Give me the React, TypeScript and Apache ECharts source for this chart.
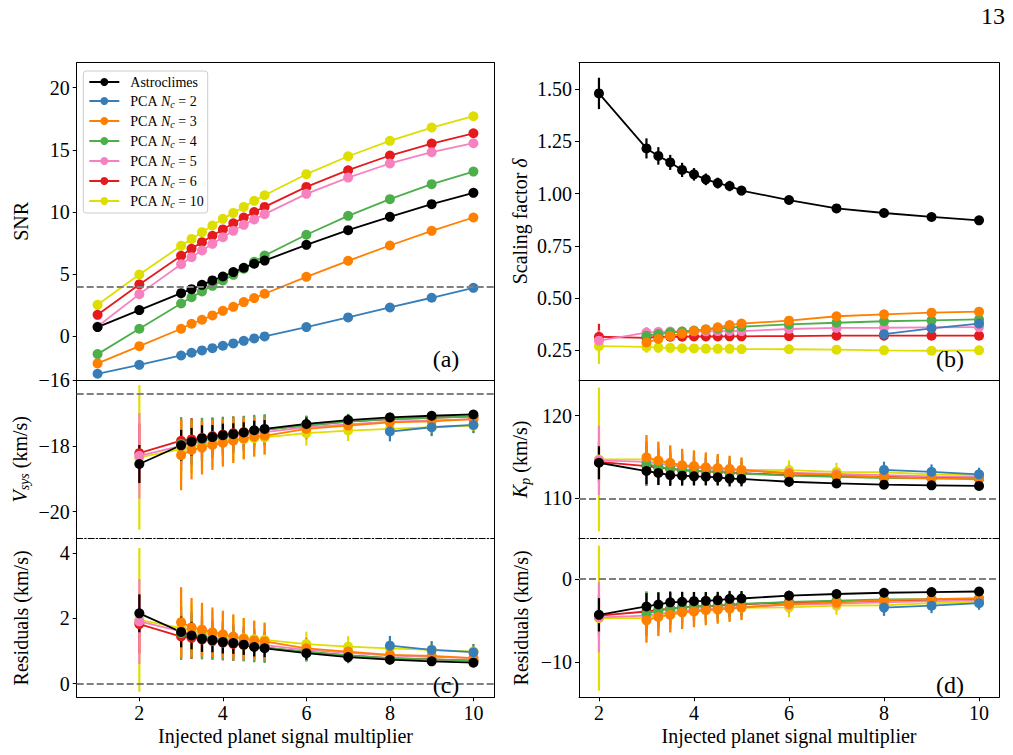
import React, { useEffect, useRef } from "react";
import * as echarts from "echarts";

const _ = null;

// Injected planet signal multipliers (shared x values for every panel)
const MULT = [1, 2, 3, 3.25, 3.5, 3.75, 4, 4.25, 4.5, 4.75, 5, 6, 7, 8, 9, 10];

// Methods, legend order
const METHODS = ["Astroclimes", "PCA Nc = 2", "PCA Nc = 3", "PCA Nc = 4", "PCA Nc = 5", "PCA Nc = 6", "PCA Nc = 10"];
const COLORS = ["#000000", "#377eb8", "#ff7f00", "#4daf4a", "#f781bf", "#e41a1c", "#dede00"];
// plotting order (last one on top)
const DRAW_ORDER = [6, 5, 4, 3, 2, 1, 0];

// (a) SNR, rows follow METHODS
const snrVal = [
  [0.75, 2.12, 3.48, 3.8, 4.15, 4.5, 4.82, 5.17, 5.52, 5.84, 6.1, 7.36, 8.54, 9.61, 10.63, 11.54],
  [-3.0, -2.28, -1.53, -1.31, -1.12, -0.94, -0.75, -0.56, -0.35, -0.16, 0.0, 0.75, 1.53, 2.33, 3.11, 3.91],
  [-2.17, -0.78, 0.62, 1.02, 1.34, 1.69, 2.06, 2.38, 2.76, 3.08, 3.43, 4.79, 6.08, 7.31, 8.49, 9.56],
  [-1.42, 0.62, 2.65, 3.16, 3.61, 4.07, 4.5, 4.95, 5.45, 6.0, 6.5, 8.17, 9.69, 11.03, 12.24, 13.25],
  [0.8, 3.4, 5.81, 6.37, 6.91, 7.44, 7.98, 8.49, 8.97, 9.4, 9.83, 11.46, 12.77, 13.9, 14.81, 15.53],
  [1.74, 4.18, 6.48, 7.04, 7.58, 8.09, 8.6, 9.1, 9.55, 10.0, 10.41, 12.02, 13.36, 14.54, 15.5, 16.33],
  [2.54, 4.98, 7.28, 7.84, 8.38, 8.92, 9.45, 9.93, 10.41, 10.9, 11.35, 13.04, 14.48, 15.72, 16.79, 17.7],
];

// (b) scaling factor delta
const deltaVal = [
  [_, 1.479, 1.216, 1.18, 1.149, 1.113, 1.092, 1.068, 1.05, 1.036, 1.014, 0.969, 0.929, 0.907, 0.888, 0.872],
  [_, _, _, _, _, _, _, _, _, _, _, _, _, 0.327, 0.355, 0.378],
  [_, _, 0.288, 0.304, 0.319, 0.33, 0.342, 0.35, 0.36, 0.371, 0.378, 0.392, 0.413, 0.422, 0.43, 0.435],
  [_, _, 0.32, 0.328, 0.335, 0.34, 0.345, 0.35, 0.354, 0.358, 0.363, 0.374, 0.382, 0.389, 0.393, 0.398],
  [_, 0.296, 0.335, 0.338, 0.34, 0.34, 0.341, 0.341, 0.342, 0.342, 0.342, 0.352, 0.357, 0.358, 0.36, 0.361],
  [_, 0.315, 0.31, 0.315, 0.315, 0.315, 0.316, 0.316, 0.316, 0.317, 0.317, 0.318, 0.32, 0.32, 0.32, 0.32],
  [_, 0.27, 0.266, 0.263, 0.262, 0.26, 0.259, 0.258, 0.257, 0.257, 0.256, 0.255, 0.253, 0.25, 0.248, 0.25],
];
const deltaErr = [
  [_, 0.075, 0.048, 0.042, 0.036, 0.034, 0.03, 0.028, 0.026, 0.025, 0.022, 0.015, 0.012, 0.01, 0.01, 0.009],
  [_, _, _, _, _, _, _, _, _, _, _, _, _, 0.012, 0.011, 0.01],
  [_, _, 0.03, 0.027, 0.025, 0.023, 0.021, 0.02, 0.019, 0.018, 0.017, 0.012, 0.01, 0.009, 0.008, 0.008],
  [_, _, 0.028, 0.025, 0.023, 0.021, 0.02, 0.019, 0.018, 0.017, 0.016, 0.011, 0.009, 0.008, 0.007, 0.007],
  [_, 0.05, 0.026, 0.024, 0.022, 0.02, 0.019, 0.018, 0.017, 0.016, 0.015, 0.011, 0.009, 0.008, 0.007, 0.007],
  [_, 0.062, 0.022, 0.02, 0.019, 0.018, 0.017, 0.016, 0.015, 0.014, 0.013, 0.01, 0.008, 0.007, 0.007, 0.006],
  [_, 0.085, 0.028, 0.025, 0.023, 0.021, 0.02, 0.019, 0.018, 0.017, 0.016, 0.011, 0.009, 0.008, 0.007, 0.007],
];

// (c) systemic velocity, true value and fit residuals
const VSYS_TRUE = -16.4;
const vsysVal = [
  [_, -18.55, -17.98, -17.87, -17.77, -17.73, -17.67, -17.64, -17.59, -17.52, -17.48, -17.33, -17.21, -17.13, -17.08, -17.04],
  [_, _, _, _, _, _, _, _, _, _, _, _, _, -17.56, -17.43, -17.36],
  [_, _, -18.28, -18.12, -18.05, -17.97, -17.91, -17.84, -17.77, -17.72, -17.69, -17.48, -17.38, -17.28, -17.25, -17.18],
  [_, _, -17.94, -17.87, -17.8, -17.75, -17.7, -17.65, -17.6, -17.55, -17.5, -17.38, -17.26, -17.18, -17.14, -17.1],
  [_, -18.3, -18.0, -17.92, -17.85, -17.8, -17.75, -17.7, -17.66, -17.62, -17.58, -17.43, -17.34, -17.26, -17.22, -17.18],
  [_, -18.22, -17.84, -17.8, -17.75, -17.7, -17.65, -17.61, -17.58, -17.54, -17.5, -17.37, -17.26, -17.18, -17.14, -17.1],
  [_, -18.35, -18.1, -18.02, -17.96, -17.9, -17.86, -17.82, -17.79, -17.76, -17.74, -17.61, -17.53, -17.48, -17.43, -17.38],
];
const vsysErr = [
  [_, 0.58, 0.47, 0.42, 0.4, 0.37, 0.35, 0.33, 0.31, 0.29, 0.27, 0.2, 0.16, 0.13, 0.12, 0.11],
  [_, _, _, _, _, _, _, _, _, _, _, _, _, 0.3, 0.27, 0.25],
  [_, _, 1.07, 0.9, 0.82, 0.76, 0.72, 0.68, 0.64, 0.6, 0.56, 0.32, 0.26, 0.21, 0.18, 0.16],
  [_, _, 0.82, 0.7, 0.66, 0.6, 0.58, 0.55, 0.52, 0.5, 0.47, 0.3, 0.24, 0.2, 0.17, 0.15],
  [_, 1.3, 0.75, 0.68, 0.63, 0.59, 0.56, 0.53, 0.5, 0.48, 0.45, 0.3, 0.24, 0.2, 0.17, 0.15],
  [_, 0.9, 0.7, 0.65, 0.6, 0.57, 0.54, 0.51, 0.49, 0.47, 0.44, 0.29, 0.23, 0.19, 0.16, 0.14],
  [_, 2.2, 0.9, 0.82, 0.76, 0.72, 0.68, 0.64, 0.6, 0.57, 0.54, 0.38, 0.32, 0.28, 0.25, 0.22],
];
const vsysRes = [
  [_, 2.15, 1.58, 1.47, 1.37, 1.33, 1.27, 1.24, 1.19, 1.12, 1.08, 0.93, 0.81, 0.73, 0.68, 0.64],
  [_, _, _, _, _, _, _, _, _, _, _, _, _, 1.16, 1.03, 0.96],
  [_, _, 1.88, 1.72, 1.65, 1.57, 1.51, 1.44, 1.37, 1.32, 1.29, 1.08, 0.98, 0.88, 0.85, 0.78],
  [_, _, 1.54, 1.47, 1.4, 1.35, 1.3, 1.25, 1.2, 1.15, 1.1, 0.98, 0.86, 0.78, 0.74, 0.7],
  [_, 1.9, 1.6, 1.52, 1.45, 1.4, 1.35, 1.3, 1.26, 1.22, 1.18, 1.03, 0.94, 0.86, 0.82, 0.78],
  [_, 1.82, 1.44, 1.4, 1.35, 1.3, 1.25, 1.21, 1.18, 1.14, 1.1, 0.97, 0.86, 0.78, 0.74, 0.7],
  [_, 1.95, 1.7, 1.62, 1.56, 1.5, 1.46, 1.42, 1.39, 1.36, 1.34, 1.21, 1.13, 1.08, 1.03, 0.98],
];

// (d) planet velocity semi-amplitude, true value and fit residuals
const KP_TRUE = 110;
const kpVal = [
  [_, 114.3, 113.3, 113.06, 112.8, 112.74, 112.66, 112.62, 112.54, 112.38, 112.34, 112.0, 111.8, 111.65, 111.57, 111.5],
  [_, _, _, _, _, _, _, _, _, _, _, _, _, 113.43, 113.2, 112.9],
  [_, _, 114.96, 114.56, 114.3, 114.0, 113.9, 113.75, 113.67, 113.55, 113.43, 113.0, 112.8, 112.54, 112.42, 112.3],
  [_, _, 114.15, 113.8, 113.6, 113.45, 113.35, 113.25, 113.2, 113.1, 113.0, 112.75, 112.6, 112.45, 112.42, 112.4],
  [_, 114.6, 114.4, 114.2, 114.0, 113.8, 113.7, 113.6, 113.5, 113.4, 113.35, 113.1, 112.95, 112.8, 112.65, 112.6],
  [_, 114.4, 113.9, 113.7, 113.55, 113.4, 113.3, 113.25, 113.2, 113.1, 113.05, 112.8, 112.7, 112.6, 112.5, 112.4],
  [_, 114.7, 114.7, 114.4, 114.2, 113.95, 113.85, 113.7, 113.6, 113.5, 113.45, 113.4, 113.2, 113.15, 112.9, 112.8],
];
const kpErr = [
  [_, 2.0, 1.6, 1.45, 1.3, 1.2, 1.1, 1.05, 1.0, 0.95, 0.9, 0.6, 0.5, 0.4, 0.35, 0.3],
  [_, _, _, _, _, _, _, _, _, _, _, _, _, 1.0, 0.9, 0.8],
  [_, _, 2.7, 2.3, 2.1, 2.0, 1.9, 1.8, 1.7, 1.6, 1.5, 1.0, 0.9, 0.6, 0.5, 0.5],
  [_, _, 2.6, 2.2, 2.0, 1.9, 1.8, 1.7, 1.6, 1.5, 1.4, 0.9, 0.8, 0.55, 0.5, 0.45],
  [_, 4.2, 2.5, 2.2, 2.0, 1.9, 1.8, 1.7, 1.6, 1.5, 1.4, 0.95, 0.8, 0.6, 0.5, 0.45],
  [_, 2.5, 2.4, 2.1, 1.9, 1.8, 1.7, 1.6, 1.5, 1.4, 1.3, 0.9, 0.75, 0.55, 0.5, 0.45],
  [_, 8.7, 2.8, 2.4, 2.2, 2.0, 1.9, 1.8, 1.7, 1.6, 1.5, 1.2, 1.1, 0.9, 0.8, 0.7],
];
const kpRes = [
  [_, -4.3, -3.3, -3.06, -2.8, -2.74, -2.66, -2.62, -2.54, -2.38, -2.34, -2.0, -1.8, -1.65, -1.57, -1.5],
  [_, _, _, _, _, _, _, _, _, _, _, _, _, -3.43, -3.2, -2.9],
  [_, _, -4.96, -4.56, -4.3, -4.0, -3.9, -3.75, -3.67, -3.55, -3.43, -3.0, -2.8, -2.54, -2.42, -2.3],
  [_, _, -4.15, -3.8, -3.6, -3.45, -3.35, -3.25, -3.2, -3.1, -3.0, -2.75, -2.6, -2.45, -2.42, -2.4],
  [_, -4.6, -4.4, -4.2, -4.0, -3.8, -3.7, -3.6, -3.5, -3.4, -3.35, -3.1, -2.95, -2.8, -2.65, -2.6],
  [_, -4.4, -3.9, -3.7, -3.55, -3.4, -3.3, -3.25, -3.2, -3.1, -3.05, -2.8, -2.7, -2.6, -2.5, -2.4],
  [_, -4.7, -4.7, -4.4, -4.2, -3.95, -3.85, -3.7, -3.6, -3.5, -3.45, -3.4, -3.2, -3.15, -2.9, -2.8],
];

// Tick values
const SNR_TICKS = [0, 5, 10, 15, 20];
const DELTA_TICKS = [0.25, 0.5, 0.75, 1.0, 1.25, 1.5];
const VSYS_TICKS = [-20, -18, -16];
const VRES_TICKS = [0, 2, 4];
const KP_TICKS = [110, 120];
const KRES_TICKS = [-10, 0];
const X_TICKS = [2, 4, 6, 8, 10];

const SNR_THRESHOLD = 4;

const FONT = "'Liberation Serif', 'Times New Roman', serif";
const minus = (v: number | string) => String(v).replace("-", "\u2212");

const AXIS_RICH = {
  t: { fontFamily: FONT, fontSize: 20, lineHeight: 22, color: "#000" },
  it: { fontFamily: FONT, fontSize: 20, lineHeight: 22, fontStyle: "italic", color: "#000" },
  sb: { fontFamily: FONT, fontSize: 14, lineHeight: 12, fontStyle: "italic", padding: [10, 0, 0, 0], color: "#000" },
};

const LEGEND_RICH = {
  t0: { fontFamily: FONT, fontSize: 14, lineHeight: 16, padding: [0, 0, 0, 6], color: "#000" },
  t: { fontFamily: FONT, fontSize: 14, lineHeight: 16, color: "#000" },
  it: { fontFamily: FONT, fontSize: 14, lineHeight: 16, fontStyle: "italic", color: "#000" },
  sb: { fontFamily: FONT, fontSize: 10, lineHeight: 10, fontStyle: "italic", padding: [6, 0, 0, 0], color: "#000" },
};

type Panel = {
  grid: { left: number; top: number; width: number; height: number };
  xRange: [number, number];
  yRange: [number, number];
  values: (number | null)[][];
  errors: (number | null)[][] | null;
  yTicks: number[];
  yFmt: (v: number) => string;
  yName: string;
  yNameGap: number;
  topLine: "solid" | "dashdot" | "none";
  bottomLine: "solid" | "none";
  xLabels: boolean;
  refLine: number | null;
  tag: string;
  tagPos: [number, number];
};

const LEFT_X: [number, number] = [0.5, 10.5];
const RIGHT_X: [number, number] = [1.58, 10.42];
const L = { left: 76.7, width: 417.6 };
const R = { left: 579, width: 420 };
const ROW = [
  { top: 62.7, height: 317.3 },
  { top: 380, height: 158.5 },
  { top: 538.5, height: 158.8 },
];

const PANELS: Panel[] = [
  {
    grid: { ...L, ...ROW[0] }, xRange: LEFT_X, yRange: [-3.5, 22], values: snrVal, errors: null,
    yTicks: SNR_TICKS, yFmt: (v) => minus(v), yName: "SNR", yNameGap: 46,
    topLine: "solid", bottomLine: "solid", xLabels: false, refLine: SNR_THRESHOLD, tag: "(a)", tagPos: [446, 359],
  },
  {
    grid: { ...L, ...ROW[1] }, xRange: LEFT_X, yRange: [-20.82, -15.99], values: vsysVal, errors: vsysErr,
    yTicks: VSYS_TICKS, yFmt: (v) => minus(v), yName: "{it|V}{sb|sys}{t| (km/s)}", yNameGap: 46,
    topLine: "none", bottomLine: "none", xLabels: false, refLine: VSYS_TRUE, tag: "", tagPos: [0, 0],
  },
  {
    grid: { ...L, ...ROW[2] }, xRange: LEFT_X, yRange: [-0.42, 4.44], values: vsysRes, errors: vsysErr,
    yTicks: VRES_TICKS, yFmt: (v) => minus(v), yName: "Residuals (km/s)", yNameGap: 46,
    topLine: "dashdot", bottomLine: "solid", xLabels: true, refLine: 0, tag: "(c)", tagPos: [446, 685],
  },
  {
    grid: { ...R, ...ROW[0] }, xRange: RIGHT_X, yRange: [0.108, 1.626], values: deltaVal, errors: deltaErr,
    yTicks: DELTA_TICKS, yFmt: (v) => v.toFixed(2), yName: "{t|Scaling factor }{it|\u03b4}", yNameGap: 48,
    topLine: "solid", bottomLine: "solid", xLabels: false, refLine: null, tag: "(b)", tagPos: [950, 359],
  },
  {
    grid: { ...R, ...ROW[1] }, xRange: RIGHT_X, yRange: [105.13, 124.32], values: kpVal, errors: kpErr,
    yTicks: KP_TICKS, yFmt: (v) => minus(v), yName: "{it|K}{sb|p}{t| (km/s)}", yNameGap: 48,
    topLine: "none", bottomLine: "none", xLabels: false, refLine: KP_TRUE, tag: "", tagPos: [0, 0],
  },
  {
    grid: { ...R, ...ROW[2] }, xRange: RIGHT_X, yRange: [-14.2, 4.86], values: kpRes, errors: kpErr,
    yTicks: KRES_TICKS, yFmt: (v) => minus(v), yName: "Residuals (km/s)", yNameGap: 48,
    topLine: "dashdot", bottomLine: "solid", xLabels: true, refLine: 0, tag: "(d)", tagPos: [950, 685],
  },
];

const DASHDOT = [6, 2, 1.5, 2];

function buildOption() {
  const grid: any[] = [];
  const xAxis: any[] = [];
  const yAxis: any[] = [];
  const series: any[] = [];
  const graphic: any[] = [];

  PANELS.forEach((p, pi) => {
    grid.push({ ...p.grid, containLabel: false });

    // bottom x axis (data axis)
    xAxis.push({
      type: "value", gridIndex: pi, position: "bottom", min: p.xRange[0], max: p.xRange[1],
      axisLine: { show: p.bottomLine !== "none", onZero: false, lineStyle: { color: "#000", width: 1 } },
      axisTick: { show: p.xLabels, length: 4, customValues: X_TICKS, lineStyle: { color: "#000", width: 1 } },
      axisLabel: {
        show: p.xLabels, customValues: X_TICKS, fontFamily: FONT, fontSize: 20, color: "#000", margin: 6,
        formatter: (v: number) => minus(v),
      },
      splitLine: { show: false },
      name: p.xLabels ? "Injected planet signal multiplier" : "",
      nameLocation: "middle", nameGap: 29,
      nameTextStyle: { fontFamily: FONT, fontSize: 20, color: "#000" },
    });
    // top frame edge
    xAxis.push({
      type: "value", gridIndex: pi, position: "top", min: p.xRange[0], max: p.xRange[1],
      axisLine: {
        show: p.topLine !== "none", onZero: false,
        lineStyle: { color: "#000", width: 1, type: p.topLine === "dashdot" ? DASHDOT : "solid" },
      },
      axisTick: { show: false }, axisLabel: { show: false }, splitLine: { show: false },
    });
    // left y axis (data axis)
    yAxis.push({
      type: "value", gridIndex: pi, position: "left", min: p.yRange[0], max: p.yRange[1],
      axisLine: { show: true, onZero: false, lineStyle: { color: "#000", width: 1 } },
      axisTick: { show: true, length: 4, customValues: p.yTicks, lineStyle: { color: "#000", width: 1 } },
      axisLabel: {
        show: true, customValues: p.yTicks, fontFamily: FONT, fontSize: 20, color: "#000", margin: 7,
        formatter: p.yFmt,
      },
      splitLine: { show: false },
      name: p.yName, nameLocation: "middle", nameGap: p.yNameGap,
      nameTextStyle: { fontFamily: FONT, fontSize: 20, color: "#000", rich: AXIS_RICH },
    });
    // right frame edge
    yAxis.push({
      type: "value", gridIndex: pi, position: "right", min: p.yRange[0], max: p.yRange[1],
      axisLine: { show: true, onZero: false, lineStyle: { color: "#000", width: 1 } },
      axisTick: { show: false }, axisLabel: { show: false }, splitLine: { show: false },
    });

    const xi = pi * 2;
    let refAttached = false;
    DRAW_ORDER.forEach((m) => {
      const vals = p.values[m];
      const color = COLORS[m];
      const pts: number[][] = [];
      const bars: number[][] = [];
      MULT.forEach((x, i) => {
        const v = vals[i];
        if (v === null || v === undefined) return;
        pts.push([x, v]);
        if (p.errors) {
          const e = p.errors[m][i];
          if (e !== null && e !== undefined) bars.push([x, v - e, v + e]);
        }
      });
      if (!pts.length) return;
      if (bars.length) {
        series.push({
          type: "custom", xAxisIndex: xi, yAxisIndex: xi, silent: true, z: 2,
          data: bars, encode: { x: 0, y: [1, 2] },
          renderItem: (_params: any, api: any) => {
            const a = api.coord([api.value(0), api.value(1)]);
            const b = api.coord([api.value(0), api.value(2)]);
            return {
              type: "line",
              shape: { x1: a[0], y1: a[1], x2: b[0], y2: b[1] },
              style: { stroke: color, lineWidth: 2.2 },
            };
          },
        });
      }
      const s: any = {
        type: "line", name: METHODS[m], xAxisIndex: xi, yAxisIndex: xi, z: 2,
        data: pts, symbol: "circle", symbolSize: 10, showSymbol: true,
        itemStyle: { color }, lineStyle: { color, width: 1.8 },
        emphasis: { disabled: true }, silent: true,
      };
      if (!refAttached && p.refLine !== null) {
        s.markLine = {
          silent: true, symbol: "none", label: { show: false },
          lineStyle: { color: "#808080", width: 1.8, type: [7, 3] },
          data: [{ yAxis: p.refLine }],
        };
        refAttached = true;
      }
      series.push(s);
    });

    if (p.tag) {
      graphic.push({
        type: "text", x: p.tagPos[0], y: p.tagPos[1], z: 10,
        style: { text: p.tag, fontFamily: FONT, fontSize: 24, fill: "#000", align: "center", verticalAlign: "middle" },
      });
    }
  });

  graphic.push({
    type: "text", x: 993, y: 16,
    style: { text: "13", fontFamily: FONT, fontSize: 24, fill: "#000", align: "center", verticalAlign: "middle" },
  });

  return {
    animation: false,
    backgroundColor: "#ffffff",
    textStyle: { fontFamily: FONT },
    grid, xAxis, yAxis, series, graphic,
    legend: {
      data: METHODS, orient: "vertical", left: 83.3, top: 71, padding: [4, 4, 4, 5],
      itemWidth: 30, itemHeight: 10, itemGap: 4, selectedMode: false,
      backgroundColor: "rgba(255,255,255,0.8)", borderColor: "#cccccc", borderWidth: 1, borderRadius: 3,
      formatter: (name: string) => {
        if (name === "Astroclimes") return "{t0|Astroclimes}";
        const n = name.split("= ")[1];
        return `{t0|PCA }{it|N}{sb|c}{t| = ${n}}`;
      },
      textStyle: { fontFamily: FONT, fontSize: 14, color: "#000", rich: LEGEND_RICH },
      z: 20,
    },
  };
}

export default function App() {
  const ref = useRef<HTMLDivElement>(null);
  useEffect(() => {
    if (!ref.current) return;
    const chart = echarts.init(ref.current, undefined, { renderer: "svg" });
    chart.setOption(buildOption() as any);
    return () => chart.dispose();
  }, []);
  return (
    <div
      ref={ref}
      style={{ position: "fixed", left: 0, top: 0, width: 1013, height: 755, background: "#fff" }}
    />
  );
}
